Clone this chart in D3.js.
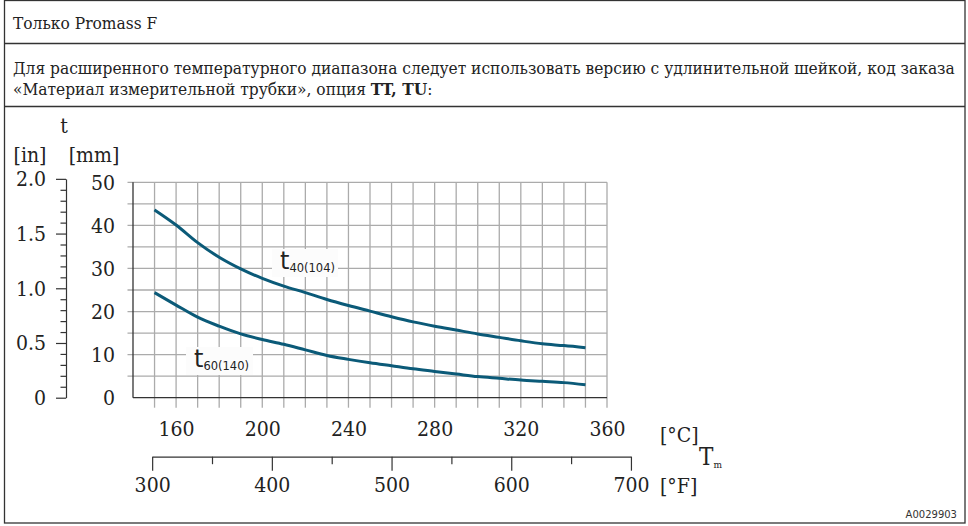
<!DOCTYPE html>
<html><head><meta charset="utf-8">
<script src="https://cdn.jsdelivr.net/npm/d3@7/dist/d3.min.js"></script>
<style>
html,body{margin:0;padding:0;background:#fff;}
svg{display:block;}
.serif{font-family:"DejaVu Serif Condensed","DejaVu Serif",serif;font-stretch:condensed;fill:#222;}
</style></head>
<body><svg id="c" width="968" height="526"></svg>
<script>
// ---- data ----
const titleText = "Только Promass F";
const noteLine1 = "Для расширенного температурного диапазона следует использовать версию с удлинительной шейкой, код заказа";
const noteLine2a = "«Материал измерительной трубки», опция ";
const noteLine2b = "TT, TU";
const noteLine2c = ":";
const tempC = [150,160,170,180,190,200,210,220,230,240,250,260,270,280,290,300,310,320,330,340,350];
const t40 = [43.6,40.1,36.0,32.6,29.9,27.7,25.9,24.4,22.8,21.4,20.1,18.8,17.6,16.6,15.7,14.8,14.0,13.2,12.5,12.1,11.6];
const t60 = [24.4,21.5,18.7,16.6,14.8,13.5,12.4,11.1,9.8,8.9,8.1,7.4,6.7,6.1,5.5,4.9,4.5,4.1,3.8,3.5,3.0];
const mmTicks = [0,10,20,30,40,50];
const inTicks = [0,0.5,1.0,1.5,2.0];
const cTicks = [160,200,240,280,320,360];
const fTicks = [300,400,500,600,700];
const seriesLabels = [{main:"t", sub:"40(104)", at:210, val:30.2},{main:"t", sub:"60(140)", at:165, val:8.3}];
const figId = "A0029903";

const svg = d3.select("#c");
const ink = "#222";
const curveColor = "#0b5a78";
const gridColor = "#ababab";

// ---- table frame ----
const frame = svg.append("g");
frame.append("rect").attr("x",4.5).attr("y",0.5).attr("width",960.5).attr("height",522.5)
  .attr("fill","none").attr("stroke","#333").attr("stroke-width",1.3);
[43.5,106.5].forEach(yy=>frame.append("line").attr("x1",4.5).attr("x2",965).attr("y1",yy).attr("y2",yy)
  .attr("stroke","#333").attr("stroke-width",1.3));

// header text, sized so first note line fits
const hdr = svg.append("g").attr("class","serif");
const l1 = hdr.append("text").attr("x",13).attr("y",74).attr("font-size",17).text(noteLine1);
const w = l1.node().getComputedTextLength();
const fs = 17*942/w;
l1.attr("font-size",fs);
hdr.append("text").attr("x",13).attr("y",29).attr("font-size",fs).text(titleText);
const l2 = hdr.append("text").attr("x",13).attr("y",94.5).attr("font-size",fs);
l2.append("tspan").text(noteLine2a);
l2.append("tspan").attr("font-weight","bold").text(noteLine2b);
l2.append("tspan").text(noteLine2c);

// ---- scales ----
const x = d3.scaleLinear().domain([140,360]).range([133,607]);
const y = d3.scaleLinear().domain([0,50]).range([397.7,182.3]);
const yIn = d3.scaleLinear().domain([0,2]).range([y(0), y(50.8)]);
const toC = f => (f-32)/1.8;
const xF = d3.scaleLinear().domain([300,700]).range([x(toC(300)), x(toC(700))]);

const chartFont = 21;
const g = svg.append("g");

// grid
const vGrid = d3.range(150,361,10);
const hGrid = d3.range(5,51,5);
g.selectAll(".vg").data(vGrid).join("line")
  .attr("x1",d=>x(d)).attr("x2",d=>x(d)).attr("y1",y(50)).attr("y2",y(0)+10)
  .attr("stroke",gridColor).attr("stroke-width",1.3);
g.selectAll(".hg").data(hGrid).join("line")
  .attr("y1",d=>y(d)).attr("y2",d=>y(d)).attr("x1",x(140)-5.5).attr("x2",x(360))
  .attr("stroke",gridColor).attr("stroke-width",1.3);

// axes lines
g.append("line").attr("x1",x(140)).attr("x2",x(140)).attr("y1",y(50)).attr("y2",y(0)).attr("stroke","#333").attr("stroke-width",1.3);
g.append("line").attr("x1",x(140)).attr("x2",x(360)).attr("y1",y(0)).attr("y2",y(0)).attr("stroke","#333").attr("stroke-width",1.3);

// mm labels
const mmAxis = d3.axisLeft(y).tickValues(mmTicks).tickSize(0).tickPadding(18).tickFormat(d3.format("d"));
const mmG = g.append("g").attr("transform",`translate(${x(140)},0)`).call(mmAxis);
mmG.select(".domain").remove();
mmG.selectAll("text").attr("class","serif").attr("font-size",chartFont).attr("fill",ink);

// inch axis
const inX = 66;
const inMinor = d3.axisLeft(yIn).tickValues(d3.range(0,2.001,0.1).filter(v=>Math.abs(v*2-Math.round(v*2))>1e-6)).tickSize(5.5).tickFormat("");
const inMG = g.append("g").attr("transform",`translate(${inX},0)`).call(inMinor);
inMG.select(".domain").remove();
const inAxis = d3.axisLeft(yIn).tickValues(inTicks).tickSize(10).tickPadding(10).tickSizeOuter(0)
  .tickFormat(d=> d===0 ? "0" : d3.format(".1f")(d));
const inG = g.append("g").attr("transform",`translate(${inX},0)`).call(inAxis);
inG.selectAll("text").attr("class","serif").attr("font-size",chartFont).attr("fill",ink);
[inMG,inG].forEach(a=>{a.selectAll("line").attr("stroke","#333").attr("stroke-width",1.2);a.select(".domain").attr("stroke","#333").attr("stroke-width",1.2);});

// unit labels
g.append("text").attr("class","serif").attr("x",64).attr("y",133).attr("text-anchor","middle").attr("font-size",chartFont).text("t");
g.append("text").attr("class","serif").attr("x",30).attr("y",162).attr("text-anchor","middle").attr("font-size",chartFont).text("[in]");
g.append("text").attr("class","serif").attr("x",94).attr("y",162).attr("text-anchor","middle").attr("font-size",chartFont).text("[mm]");

// C labels
const cAxis = d3.axisBottom(x).tickValues(cTicks).tickSize(0).tickPadding(0).tickFormat(d3.format("d"));
const cG = g.append("g").attr("transform",`translate(0,${y(0)+31})`).call(cAxis);
cG.select(".domain").remove();
cG.selectAll("text").attr("class","serif").attr("font-size",chartFont).attr("fill",ink).attr("dy",null).attr("dominant-baseline","central");

// F axis
const fY = 456.7;
const fMinor = d3.axisBottom(xF).tickValues([350,450,550,650]).tickSize(7.5).tickFormat("");
const fMG = g.append("g").attr("transform",`translate(0,${fY})`).call(fMinor);
fMG.select(".domain").remove();
const fAxis = d3.axisBottom(xF).tickValues(fTicks).tickSize(14).tickSizeOuter(0).tickPadding(6).tickFormat(d3.format("d"));
const fG = g.append("g").attr("transform",`translate(0,${fY})`).call(fAxis);
fG.selectAll("text").attr("class","serif").attr("font-size",chartFont).attr("fill",ink);
[fMG,fG].forEach(a=>{a.selectAll("line").attr("stroke","#333").attr("stroke-width",1.2);a.select(".domain").attr("stroke","#333").attr("stroke-width",1.2);});

g.append("text").attr("class","serif").attr("x",660).attr("y",442).attr("font-size",chartFont).text("[°C]");
g.append("text").attr("class","serif").attr("x",660).attr("y",493).attr("font-size",chartFont).text("[°F]");
const tm = g.append("text").attr("class","serif").attr("x",699).attr("y",465).attr("font-size",24);
tm.append("tspan").text("T");
tm.append("tspan").attr("font-size",10).attr("dy",3).text("m");

// curves
const line = d3.line().x((d,i)=>x(tempC[i])).y(d=>y(d)).curve(d3.curveMonotoneX);
[t40,t60].forEach(s=>g.append("path").attr("d",line(s)).attr("fill","none").attr("stroke",curveColor).attr("stroke-width",3));

// series labels
const lb = [{bx:272,by:249,bw:66,bh:28,tx:280,ty:268.5},{bx:186,by:347,bw:67,bh:28,tx:194,ty:366.5}];
seriesLabels.forEach((s,i)=>{
  const b = lb[i];
  g.append("rect").attr("x",b.bx).attr("y",b.by).attr("width",b.bw).attr("height",b.bh).attr("fill","#fcfcfc");
  const t = g.append("text").attr("x",b.tx).attr("y",b.ty).attr("fill",ink);
  t.append("tspan").attr("font-family","DejaVu Sans").attr("font-size",24).text(s.main);
  t.append("tspan").attr("font-family","DejaVu Sans").attr("font-size",11.5).attr("dy",3.5).text(s.sub);
});

svg.append("text").attr("x",957).attr("y",518).attr("text-anchor","end").attr("font-family","DejaVu Sans").attr("font-size",10).attr("fill","#333").text(figId);
</script></body></html>
